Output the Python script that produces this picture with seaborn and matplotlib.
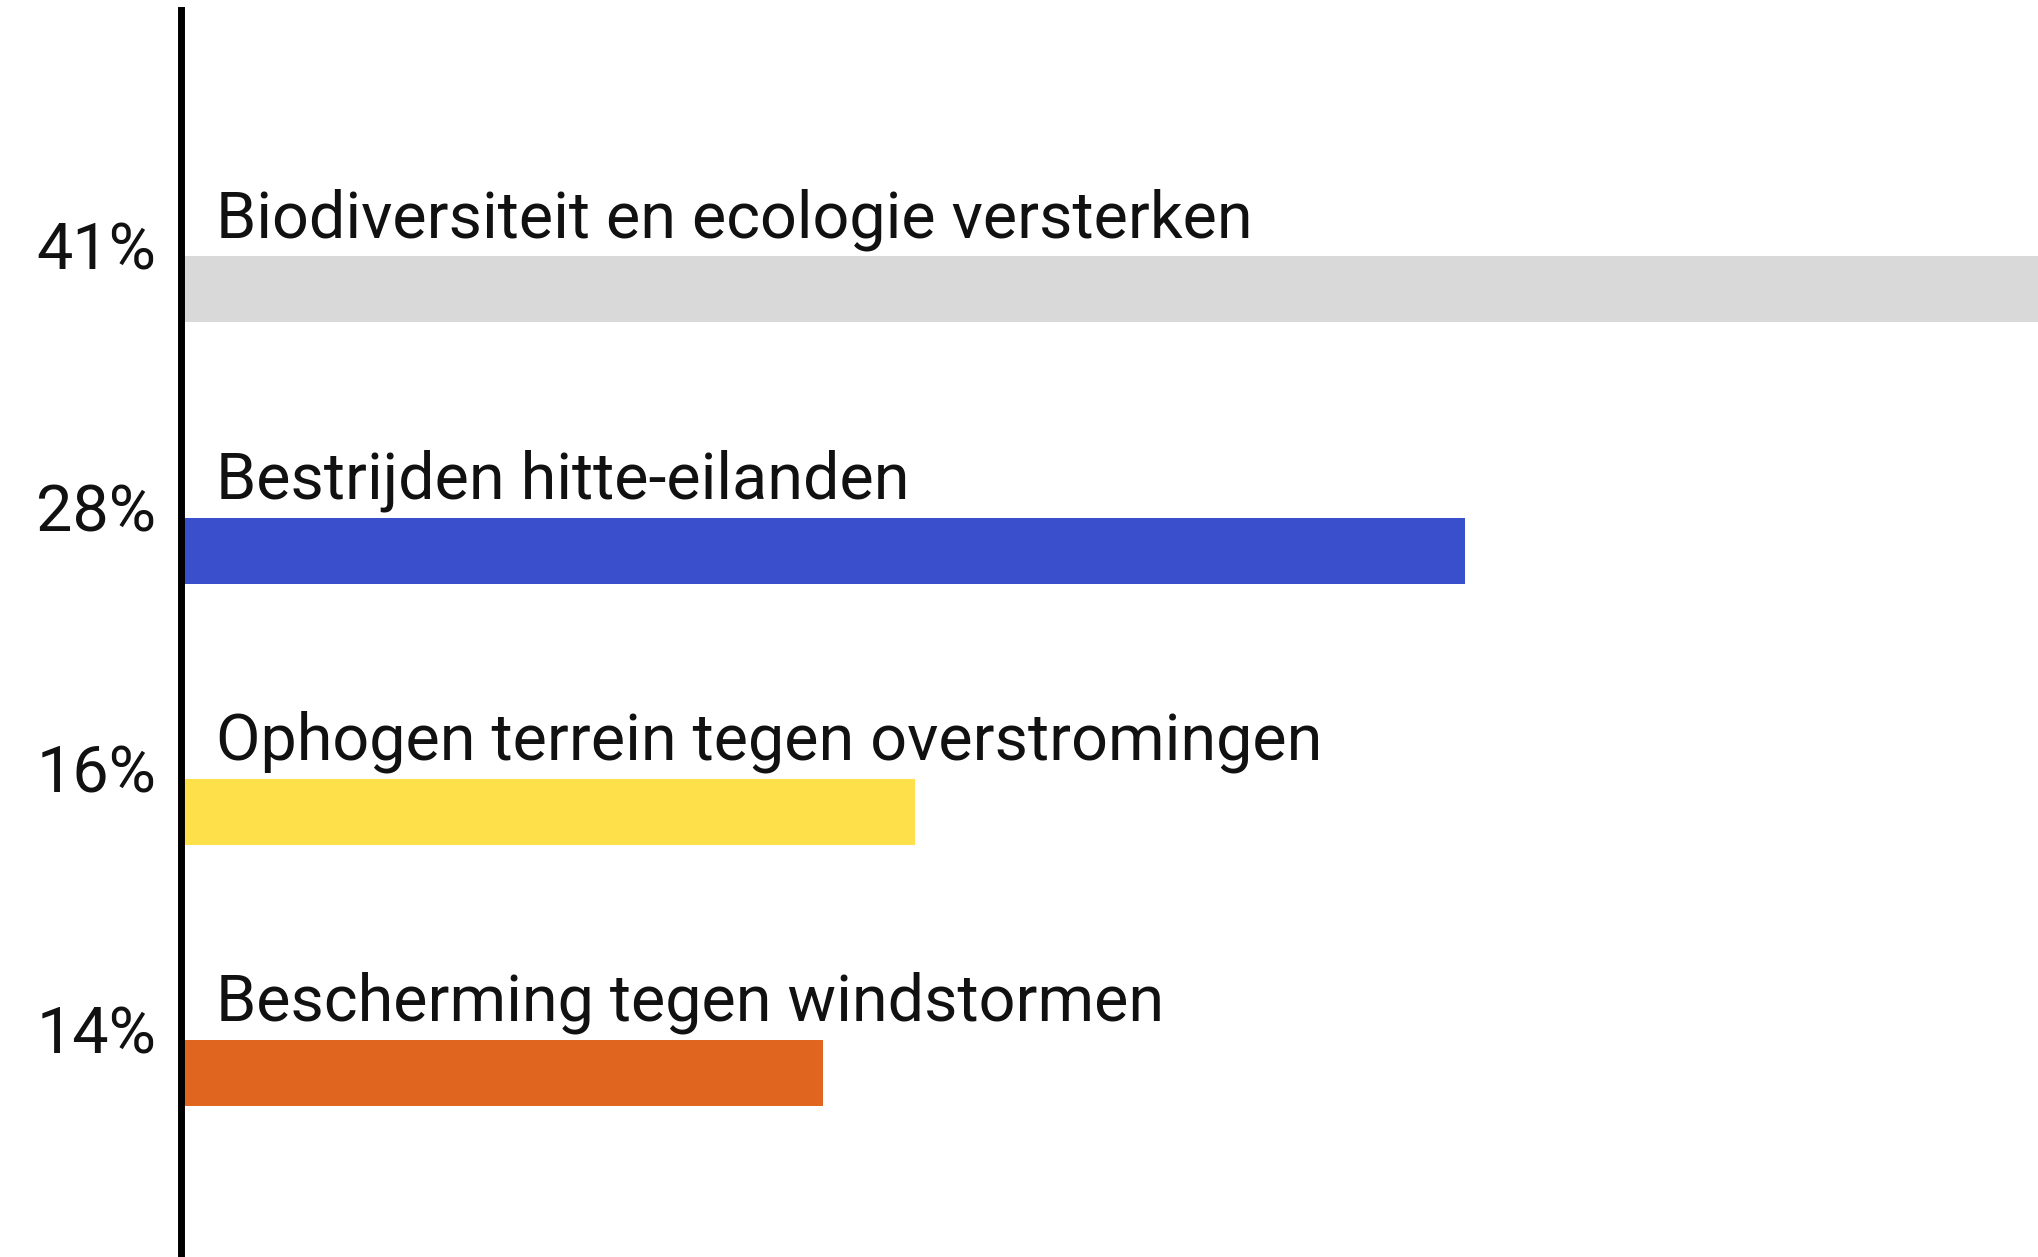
import matplotlib
matplotlib.use("Agg")
import matplotlib.pyplot as plt
import seaborn as sns
import pandas as pd

# data
categories = [
    "Biodiversiteit en ecologie versterken",
    "Bestrijden hitte-eilanden",
    "Ophogen terrein tegen overstromingen",
    "Bescherming tegen windstormen",
]
values = [41, 28, 16, 14]
value_labels = ["41%", "28%", "16%", "14%"]
colors = ["#d9d9d9", "#3a4fcb", "#fde04a", "#e0651f"]

df = pd.DataFrame({"cat": categories, "val": values})

sns.set_style("white")
plt.rcParams["font.family"] = ["Roboto", "DejaVu Sans"]

fig = plt.figure(figsize=(20.38, 12.57), dpi=100)
ax = fig.add_axes([181 / 2038, 0, 1 - 181 / 2038, 1 - 10 / 1257])

sns.barplot(data=df, x="val", y="cat", hue="cat", palette=colors,
            width=0.253, orient="h", legend=False, ax=ax,
            saturation=1, linewidth=0)

ax.set_xlim(0, 40.5)
ax.set_ylim(3.705, -1.07)

for side in ["top", "right", "bottom"]:
    ax.spines[side].set_visible(False)
ax.spines["left"].set_color("black")
ax.spines["left"].set_linewidth(5)
ax.set_xticks([])
ax.set_yticks([])
ax.set_xlabel("")
ax.set_ylabel("")

# category labels above bars, percent labels left of the axis
for i, (cat, lab) in enumerate(zip(categories, value_labels)):
    ax.annotate(cat, xy=(0, i), xytext=(25, 37.5), textcoords="offset points",
                ha="left", va="baseline", fontsize=46.5, color="#111111")
    ax.annotate(lab, xy=(0, i), xytext=(-18, 14), textcoords="offset points",
                ha="right", va="baseline", fontsize=46.5, color="#111111",
                annotation_clip=False)

fig.savefig("out.png", dpi=100, facecolor="white")
